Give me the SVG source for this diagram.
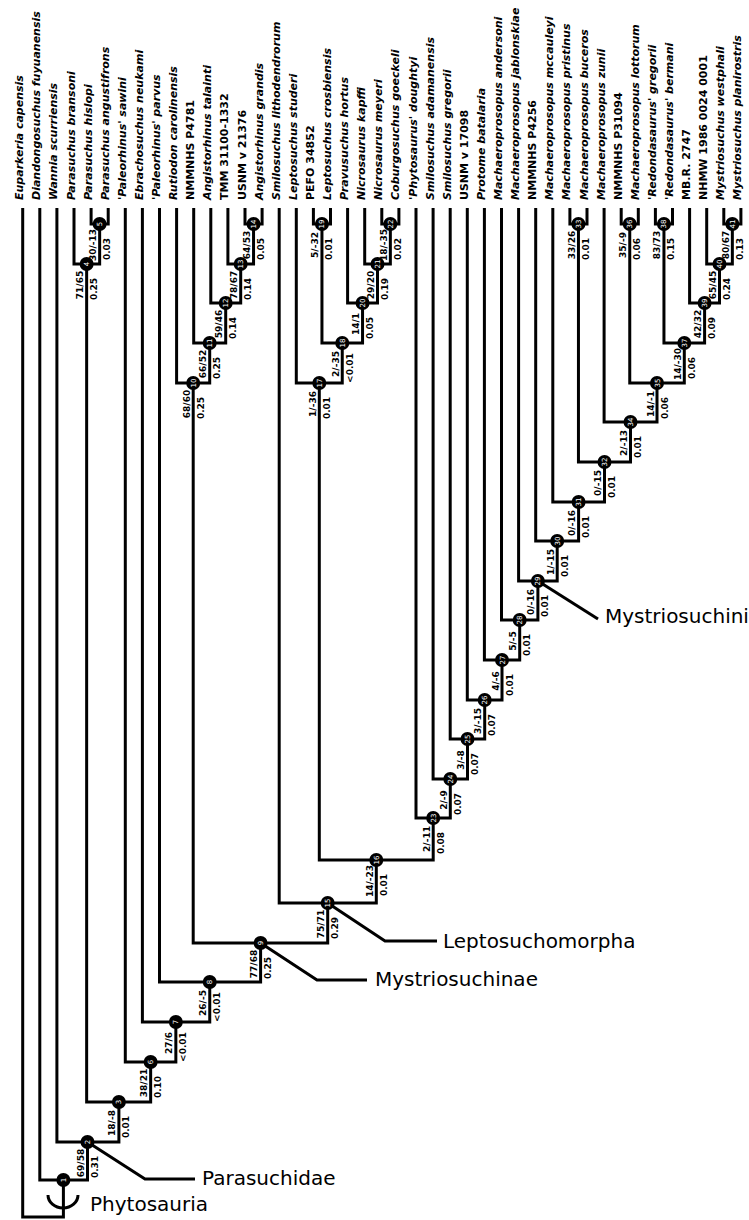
<svg xmlns="http://www.w3.org/2000/svg" width="749" height="1220" viewBox="0 0 749 1220">
<style>
.t{font-family:"DejaVu Sans",sans-serif;font-weight:bold;font-size:11px;text-anchor:start;fill:#000}
.i{font-style:italic}
.s{font-family:"DejaVu Sans",sans-serif;font-weight:bold;font-size:9px;text-anchor:middle;fill:#000}
.nc{fill:#000}
.nn{font-family:"DejaVu Sans",sans-serif;font-size:7px;text-anchor:middle;fill:#fff}
.e{stroke:#000;stroke-width:3;fill:none}
.c{font-family:"DejaVu Sans",sans-serif;font-size:20px;fill:#000}
</style>
<rect width="749" height="1220" fill="#fff"/>
<g id="connectors" class="e">
<path d="M22.7,208V1217H63.4V1180"/>
<path d="M39.8,208V1180H87.5V1142"/>
<path d="M56.9,208V1142H118.9V1102"/>
<path d="M86.65,264V1102H150.65V1062"/>
<path d="M74,208V264H99.65V224"/>
<path d="M91.1,208V224H108.2V208"/>
<path d="M125.3,208V1062H175.85V1022"/>
<path d="M142.4,208V1022H209.75V982"/>
<path d="M159.5,208V982H260.6V943"/>
<path d="M193.2,383V943H327.7V903"/>
<path d="M176.6,208V383H209.7V343"/>
<path d="M193.7,208V343H225.7V303"/>
<path d="M210.8,208V303H240.7V264"/>
<path d="M227.9,208V264H253.55V224"/>
<path d="M245,208V224H262.1V208"/>
<path d="M279.2,208V903H376.3V860"/>
<path d="M319.3,383V860H433.2V818"/>
<path d="M296.3,208V383H342.25V343"/>
<path d="M321.95,224V343H362.55V303"/>
<path d="M313.4,208V224H330.5V208"/>
<path d="M347.6,208V303H377.5V264"/>
<path d="M364.7,208V264H390.35V224"/>
<path d="M381.8,208V224H398.9V208"/>
<path d="M416,208V818H450.3V779"/>
<path d="M433.1,208V779H467.5V739"/>
<path d="M450.2,208V739H484.7V700"/>
<path d="M467.3,208V700H502V660"/>
<path d="M484.4,208V660H519.7V620"/>
<path d="M501.5,208V620H537.9V581"/>
<path d="M518.6,208V581H557.2V541"/>
<path d="M535.7,208V541H578.6V502"/>
<path d="M552.8,208V502H604.5V462"/>
<path d="M578.45,224V462H630.5V422"/>
<path d="M569.9,208V224H587V208"/>
<path d="M604.1,208V422H657V383"/>
<path d="M629.75,224V383H684.3V343"/>
<path d="M621.2,208V224H638.3V208"/>
<path d="M663.95,224V343H704.6V303"/>
<path d="M655.4,208V224H672.5V208"/>
<path d="M689.6,208V303H719.5V264"/>
<path d="M706.7,208V264H732.35V224"/>
<path d="M723.8,208V224H740.9V208"/>
<path d="M48,1195A15,13 0 0 0 78,1195"/>
<path d="M87.5,1142L145,1179H195"/>
<path d="M260.6,943L317,980H367"/>
<path d="M327.7,903L385,941H437"/>
<path d="M537.9,581L598,619"/>
</g>
<g id="clades">
<text class="c" x="90" y="1211">Phytosauria</text>
<text class="c" x="202" y="1185">Parasuchidae</text>
<text class="c" x="375" y="986">Mystriosuchinae</text>
<text class="c" x="443" y="948">Leptosuchomorpha</text>
<text class="c" x="605" y="623">Mystriosuchini</text>
</g>
<g id="taxa">
<g id="t1"><text class="t i" transform="translate(23.2,200) rotate(-90)">Euparkeria capensis</text></g>
<g id="t2"><text class="t i" transform="translate(40.3,200) rotate(-90)">Diandongosuchus fuyuanensis</text></g>
<g id="t3"><text class="t i" transform="translate(57.4,200) rotate(-90)">Wannia scurriensis</text></g>
<g id="t4"><text class="t i" transform="translate(74.5,200) rotate(-90)">Parasuchus bransoni</text></g>
<g id="t5"><text class="t i" transform="translate(91.6,200) rotate(-90)">Parasuchus hislopi</text></g>
<g id="t6"><text class="t i" transform="translate(108.7,200) rotate(-90)">Parasuchus angustifrons</text></g>
<g id="t7"><text class="t i" transform="translate(125.8,200) rotate(-90)">'Paleorhinus' sawini</text></g>
<g id="t8"><text class="t i" transform="translate(142.9,200) rotate(-90)">Ebrachosuchus neukami</text></g>
<g id="t9"><text class="t i" transform="translate(160,200) rotate(-90)">'Paleorhinus' parvus</text></g>
<g id="t10"><text class="t i" transform="translate(177.1,200) rotate(-90)">Rutiodon carolinensis</text></g>
<g id="t11"><text class="t" transform="translate(194.2,200) rotate(-90)">NMMNHS P4781</text></g>
<g id="t12"><text class="t i" transform="translate(211.3,200) rotate(-90)">Angistorhinus talainti</text></g>
<g id="t13"><text class="t" transform="translate(228.4,200) rotate(-90)">TMM 31100-1332</text></g>
<g id="t14"><text class="t" transform="translate(245.5,200) rotate(-90)">USNM v 21376</text></g>
<g id="t15"><text class="t i" transform="translate(262.6,200) rotate(-90)">Angistorhinus grandis</text></g>
<g id="t16"><text class="t i" transform="translate(279.7,200) rotate(-90)">Smilosuchus lithodendrorum</text></g>
<g id="t17"><text class="t i" transform="translate(296.8,200) rotate(-90)">Leptosuchus studeri</text></g>
<g id="t18"><text class="t" transform="translate(313.9,200) rotate(-90)">PEFO 34852</text></g>
<g id="t19"><text class="t i" transform="translate(331,200) rotate(-90)">Leptosuchus crosbiensis</text></g>
<g id="t20"><text class="t i" transform="translate(348.1,200) rotate(-90)">Pravusuchus hortus</text></g>
<g id="t21"><text class="t i" transform="translate(365.2,200) rotate(-90)">Nicrosaurus kapffi</text></g>
<g id="t22"><text class="t i" transform="translate(382.3,200) rotate(-90)">Nicrosaurus meyeri</text></g>
<g id="t23"><text class="t i" transform="translate(399.4,200) rotate(-90)">Coburgosuchus goeckeli</text></g>
<g id="t24"><text class="t i" transform="translate(416.5,200) rotate(-90)">'Phytosaurus' doughtyi</text></g>
<g id="t25"><text class="t i" transform="translate(433.6,200) rotate(-90)">Smilosuchus adamanensis</text></g>
<g id="t26"><text class="t i" transform="translate(450.7,200) rotate(-90)">Smilosuchus gregorii</text></g>
<g id="t27"><text class="t" transform="translate(467.8,200) rotate(-90)">USNM v 17098</text></g>
<g id="t28"><text class="t i" transform="translate(484.9,200) rotate(-90)">Protome batalaria</text></g>
<g id="t29"><text class="t i" transform="translate(502,200) rotate(-90)">Machaeroprosopus andersoni</text></g>
<g id="t30"><text class="t i" transform="translate(519.1,200) rotate(-90)">Machaeroprosopus jablonskiae</text></g>
<g id="t31"><text class="t" transform="translate(536.2,200) rotate(-90)">NMMNHS P4256</text></g>
<g id="t32"><text class="t i" transform="translate(553.3,200) rotate(-90)">Machaeroprosopus mccauleyi</text></g>
<g id="t33"><text class="t i" transform="translate(570.4,200) rotate(-90)">Machaeroprosopus pristinus</text></g>
<g id="t34"><text class="t i" transform="translate(587.5,200) rotate(-90)">Machaeroprosopus buceros</text></g>
<g id="t35"><text class="t i" transform="translate(604.6,200) rotate(-90)">Machaeroprosopus zunii</text></g>
<g id="t36"><text class="t" transform="translate(621.7,200) rotate(-90)">NMMNHS P31094</text></g>
<g id="t37"><text class="t i" transform="translate(638.8,200) rotate(-90)">Machaeroprosopus lottorum</text></g>
<g id="t38"><text class="t i" transform="translate(655.9,200) rotate(-90)">'Redondasaurus' gregorii</text></g>
<g id="t39"><text class="t i" transform="translate(673,200) rotate(-90)">'Redondasaurus' bermani</text></g>
<g id="t40"><text class="t" transform="translate(690.1,200) rotate(-90)">MB.R. 2747</text></g>
<g id="t41"><text class="t" transform="translate(707.2,200) rotate(-90)">NHMW 1986 0024 0001</text></g>
<g id="t42"><text class="t i" transform="translate(724.3,200) rotate(-90)">Mystriosuchus westphali</text></g>
<g id="t43"><text class="t i" transform="translate(741.4,200) rotate(-90)">Mystriosuchus planirostris</text></g>
</g>
<g id="nodes">
<g id="n1"><circle class="nc" cx="63.4" cy="1180" r="7"/><text class="nn" transform="translate(65.9,1180) rotate(-90)">1</text></g>
<g id="n2"><circle class="nc" cx="87.5" cy="1142" r="7"/><text class="nn" transform="translate(90,1142) rotate(-90)">2</text><text class="s" transform="translate(84,1163) rotate(-90)">69/58</text><text class="s" transform="translate(98,1167) rotate(-90)">0.31</text></g>
<g id="n3"><circle class="nc" cx="118.9" cy="1102" r="7"/><text class="nn" transform="translate(121.4,1102) rotate(-90)">3</text><text class="s" transform="translate(115.4,1123) rotate(-90)">18/-8</text><text class="s" transform="translate(129.4,1127) rotate(-90)">0.01</text></g>
<g id="n4"><circle class="nc" cx="86.65" cy="264" r="7"/><text class="nn" transform="translate(89.15,264) rotate(-90)">4</text><text class="s" transform="translate(83.15,285) rotate(-90)">71/65</text><text class="s" transform="translate(97.15,289) rotate(-90)">0.25</text></g>
<g id="n5"><circle class="nc" cx="99.65" cy="224" r="7"/><text class="nn" transform="translate(102.15,224) rotate(-90)">5</text><text class="s" transform="translate(96.15,245) rotate(-90)">30/-13</text><text class="s" transform="translate(110.15,249) rotate(-90)">0.03</text></g>
<g id="n6"><circle class="nc" cx="150.65" cy="1062" r="7"/><text class="nn" transform="translate(153.15,1062) rotate(-90)">6</text><text class="s" transform="translate(147.15,1083) rotate(-90)">38/21</text><text class="s" transform="translate(161.15,1087) rotate(-90)">0.10</text></g>
<g id="n7"><circle class="nc" cx="175.85" cy="1022" r="7"/><text class="nn" transform="translate(178.35,1022) rotate(-90)">7</text><text class="s" transform="translate(172.35,1043) rotate(-90)">27/6</text><text class="s" transform="translate(186.35,1047) rotate(-90)">&lt;0.01</text></g>
<g id="n8"><circle class="nc" cx="209.75" cy="982" r="7"/><text class="nn" transform="translate(212.25,982) rotate(-90)">8</text><text class="s" transform="translate(206.25,1003) rotate(-90)">26/-5</text><text class="s" transform="translate(220.25,1007) rotate(-90)">&lt;0.01</text></g>
<g id="n9"><circle class="nc" cx="260.6" cy="943" r="7"/><text class="nn" transform="translate(263.1,943) rotate(-90)">9</text><text class="s" transform="translate(257.1,964) rotate(-90)">77/68</text><text class="s" transform="translate(271.1,968) rotate(-90)">0.25</text></g>
<g id="n10"><circle class="nc" cx="193.2" cy="383" r="7"/><text class="nn" transform="translate(195.7,383) rotate(-90)">10</text><text class="s" transform="translate(189.7,404) rotate(-90)">68/60</text><text class="s" transform="translate(203.7,408) rotate(-90)">0.25</text></g>
<g id="n11"><circle class="nc" cx="209.7" cy="343" r="7"/><text class="nn" transform="translate(212.2,343) rotate(-90)">11</text><text class="s" transform="translate(206.2,364) rotate(-90)">66/52</text><text class="s" transform="translate(220.2,368) rotate(-90)">0.25</text></g>
<g id="n12"><circle class="nc" cx="225.7" cy="303" r="7"/><text class="nn" transform="translate(228.2,303) rotate(-90)">12</text><text class="s" transform="translate(222.2,324) rotate(-90)">59/46</text><text class="s" transform="translate(236.2,328) rotate(-90)">0.14</text></g>
<g id="n13"><circle class="nc" cx="240.7" cy="264" r="7"/><text class="nn" transform="translate(243.2,264) rotate(-90)">13</text><text class="s" transform="translate(237.2,285) rotate(-90)">78/67</text><text class="s" transform="translate(251.2,289) rotate(-90)">0.14</text></g>
<g id="n14"><circle class="nc" cx="253.55" cy="224" r="7"/><text class="nn" transform="translate(256.05,224) rotate(-90)">14</text><text class="s" transform="translate(250.05,245) rotate(-90)">64/53</text><text class="s" transform="translate(264.05,249) rotate(-90)">0.05</text></g>
<g id="n15"><circle class="nc" cx="327.7" cy="903" r="7"/><text class="nn" transform="translate(330.2,903) rotate(-90)">15</text><text class="s" transform="translate(324.2,924) rotate(-90)">75/71</text><text class="s" transform="translate(338.2,928) rotate(-90)">0.29</text></g>
<g id="n16"><circle class="nc" cx="376.3" cy="860" r="7"/><text class="nn" transform="translate(378.8,860) rotate(-90)">16</text><text class="s" transform="translate(372.8,881) rotate(-90)">14/-23</text><text class="s" transform="translate(386.8,885) rotate(-90)">0.01</text></g>
<g id="n17"><circle class="nc" cx="319.3" cy="383" r="7"/><text class="nn" transform="translate(321.8,383) rotate(-90)">17</text><text class="s" transform="translate(315.8,404) rotate(-90)">1/-36</text><text class="s" transform="translate(329.8,408) rotate(-90)">0.01</text></g>
<g id="n18"><circle class="nc" cx="342.25" cy="343" r="7"/><text class="nn" transform="translate(344.75,343) rotate(-90)">18</text><text class="s" transform="translate(338.75,364) rotate(-90)">2/-35</text><text class="s" transform="translate(352.75,368) rotate(-90)">&lt;0.01</text></g>
<g id="n19"><circle class="nc" cx="321.95" cy="224" r="7"/><text class="nn" transform="translate(324.45,224) rotate(-90)">19</text><text class="s" transform="translate(318.45,245) rotate(-90)">5/-32</text><text class="s" transform="translate(332.45,249) rotate(-90)">0.01</text></g>
<g id="n20"><circle class="nc" cx="362.55" cy="303" r="7"/><text class="nn" transform="translate(365.05,303) rotate(-90)">20</text><text class="s" transform="translate(359.05,324) rotate(-90)">14/1</text><text class="s" transform="translate(373.05,328) rotate(-90)">0.05</text></g>
<g id="n21"><circle class="nc" cx="377.5" cy="264" r="7"/><text class="nn" transform="translate(380,264) rotate(-90)">21</text><text class="s" transform="translate(374,285) rotate(-90)">29/20</text><text class="s" transform="translate(388,289) rotate(-90)">0.19</text></g>
<g id="n22"><circle class="nc" cx="390.35" cy="224" r="7"/><text class="nn" transform="translate(392.85,224) rotate(-90)">22</text><text class="s" transform="translate(386.85,245) rotate(-90)">18/-35</text><text class="s" transform="translate(400.85,249) rotate(-90)">0.02</text></g>
<g id="n23"><circle class="nc" cx="433.2" cy="818" r="7"/><text class="nn" transform="translate(435.7,818) rotate(-90)">23</text><text class="s" transform="translate(429.7,839) rotate(-90)">2/-11</text><text class="s" transform="translate(443.7,843) rotate(-90)">0.08</text></g>
<g id="n24"><circle class="nc" cx="450.3" cy="779" r="7"/><text class="nn" transform="translate(452.8,779) rotate(-90)">24</text><text class="s" transform="translate(446.8,800) rotate(-90)">2/-9</text><text class="s" transform="translate(460.8,804) rotate(-90)">0.07</text></g>
<g id="n25"><circle class="nc" cx="467.5" cy="739" r="7"/><text class="nn" transform="translate(470,739) rotate(-90)">25</text><text class="s" transform="translate(464,760) rotate(-90)">3/-8</text><text class="s" transform="translate(478,764) rotate(-90)">0.07</text></g>
<g id="n26"><circle class="nc" cx="484.7" cy="700" r="7"/><text class="nn" transform="translate(487.2,700) rotate(-90)">26</text><text class="s" transform="translate(481.2,721) rotate(-90)">3/-15</text><text class="s" transform="translate(495.2,725) rotate(-90)">0.07</text></g>
<g id="n27"><circle class="nc" cx="502" cy="660" r="7"/><text class="nn" transform="translate(504.5,660) rotate(-90)">27</text><text class="s" transform="translate(498.5,681) rotate(-90)">4/-6</text><text class="s" transform="translate(512.5,685) rotate(-90)">0.01</text></g>
<g id="n28"><circle class="nc" cx="519.7" cy="620" r="7"/><text class="nn" transform="translate(522.2,620) rotate(-90)">28</text><text class="s" transform="translate(516.2,641) rotate(-90)">5/-5</text><text class="s" transform="translate(530.2,645) rotate(-90)">0.01</text></g>
<g id="n29"><circle class="nc" cx="537.9" cy="581" r="7"/><text class="nn" transform="translate(540.4,581) rotate(-90)">29</text><text class="s" transform="translate(534.4,602) rotate(-90)">0/-16</text><text class="s" transform="translate(548.4,606) rotate(-90)">0.01</text></g>
<g id="n30"><circle class="nc" cx="557.2" cy="541" r="7"/><text class="nn" transform="translate(559.7,541) rotate(-90)">30</text><text class="s" transform="translate(553.7,562) rotate(-90)">1/-15</text><text class="s" transform="translate(567.7,566) rotate(-90)">0.01</text></g>
<g id="n31"><circle class="nc" cx="578.6" cy="502" r="7"/><text class="nn" transform="translate(581.1,502) rotate(-90)">31</text><text class="s" transform="translate(575.1,523) rotate(-90)">0/-16</text><text class="s" transform="translate(589.1,527) rotate(-90)">0.01</text></g>
<g id="n32"><circle class="nc" cx="604.5" cy="462" r="7"/><text class="nn" transform="translate(607,462) rotate(-90)">32</text><text class="s" transform="translate(601,483) rotate(-90)">0/-15</text><text class="s" transform="translate(615,487) rotate(-90)">0.01</text></g>
<g id="n33"><circle class="nc" cx="578.45" cy="224" r="7"/><text class="nn" transform="translate(580.95,224) rotate(-90)">33</text><text class="s" transform="translate(574.95,245) rotate(-90)">33/26</text><text class="s" transform="translate(588.95,249) rotate(-90)">0.01</text></g>
<g id="n34"><circle class="nc" cx="630.5" cy="422" r="7"/><text class="nn" transform="translate(633,422) rotate(-90)">34</text><text class="s" transform="translate(627,443) rotate(-90)">2/-13</text><text class="s" transform="translate(641,447) rotate(-90)">0.01</text></g>
<g id="n35"><circle class="nc" cx="657" cy="383" r="7"/><text class="nn" transform="translate(659.5,383) rotate(-90)">35</text><text class="s" transform="translate(653.5,404) rotate(-90)">14/-1</text><text class="s" transform="translate(667.5,408) rotate(-90)">0.06</text></g>
<g id="n36"><circle class="nc" cx="629.75" cy="224" r="7"/><text class="nn" transform="translate(632.25,224) rotate(-90)">36</text><text class="s" transform="translate(626.25,245) rotate(-90)">35/-9</text><text class="s" transform="translate(640.25,249) rotate(-90)">0.06</text></g>
<g id="n37"><circle class="nc" cx="684.3" cy="343" r="7"/><text class="nn" transform="translate(686.8,343) rotate(-90)">37</text><text class="s" transform="translate(680.8,364) rotate(-90)">14/-30</text><text class="s" transform="translate(694.8,368) rotate(-90)">0.06</text></g>
<g id="n38"><circle class="nc" cx="663.95" cy="224" r="7"/><text class="nn" transform="translate(666.45,224) rotate(-90)">38</text><text class="s" transform="translate(660.45,245) rotate(-90)">83/73</text><text class="s" transform="translate(674.45,249) rotate(-90)">0.15</text></g>
<g id="n39"><circle class="nc" cx="704.6" cy="303" r="7"/><text class="nn" transform="translate(707.1,303) rotate(-90)">39</text><text class="s" transform="translate(701.1,324) rotate(-90)">42/32</text><text class="s" transform="translate(715.1,328) rotate(-90)">0.09</text></g>
<g id="n40"><circle class="nc" cx="719.5" cy="264" r="7"/><text class="nn" transform="translate(722,264) rotate(-90)">40</text><text class="s" transform="translate(716,285) rotate(-90)">65/45</text><text class="s" transform="translate(730,289) rotate(-90)">0.24</text></g>
<g id="n41"><circle class="nc" cx="732.35" cy="224" r="7"/><text class="nn" transform="translate(734.85,224) rotate(-90)">41</text><text class="s" transform="translate(728.85,245) rotate(-90)">80/67</text><text class="s" transform="translate(742.85,249) rotate(-90)">0.13</text></g>
</g>
</svg>
